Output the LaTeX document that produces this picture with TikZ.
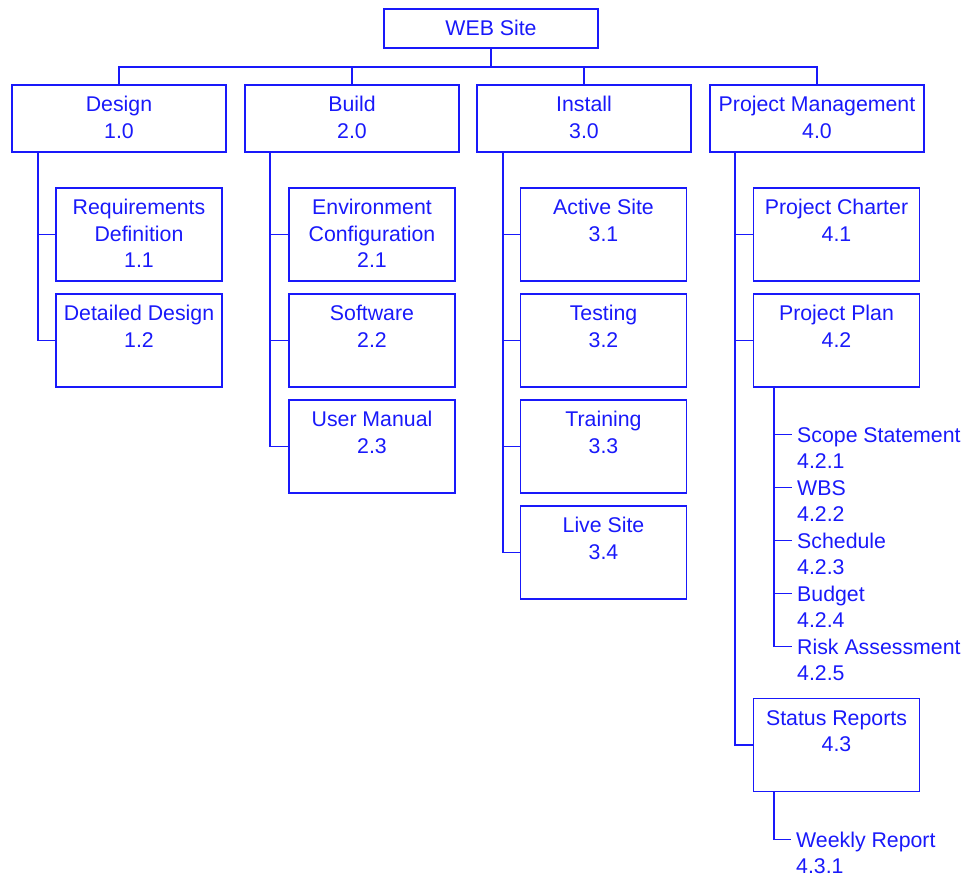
\documentclass[tikz,border=0pt]{standalone}
\usepackage{fontspec}
\setmainfont{Liberation Sans}
\definecolor{wb}{RGB}{25,25,250}
\newcommand\stru{\rule{0pt}{20pt}}
\begin{document}
\begin{tikzpicture}[x=1pt,y=-1pt,
  box/.style={draw=wb, line width=1.2pt, rectangle, inner sep=0pt},
  top/.style={box, minimum width=214pt, minimum height=39pt},
  lvl/.style={box, minimum width=214pt, minimum height=67pt},
  kid/.style={box, minimum width=166pt, minimum height=93pt},
  txt/.style={text=wb, font=\fontsize{21.3}{26.5}\selectfont, align=center, inner sep=0pt, anchor=north},
  item/.style={text=wb, font=\fontsize{21.3}{26.5}\selectfont, align=left, inner xsep=5pt, inner ysep=0pt, anchor=north west},
  wire/.style={draw=wb, line width=1.2pt}]
\useasboundingbox (0,0) rectangle (968,878);

% root
\node[top] (root) at (491,28.5) {};
\node[txt] (roott) at ([yshift=-7pt]root.north) {\stru WEB Site};

% level 1
\node[lvl] (d1) at (119,118.5) {};
\node[lvl] (d2) at (352,118.5) {};
\node[lvl] (d3) at (584,118.5) {};
\node[lvl] (d4) at (817,118.5) {};
\node[txt] (d1t) at ([yshift=-7pt]d1.north) {\stru Design\\1.0};
\node[txt] (d2t) at ([yshift=-7pt]d2.north) {\stru Build\\2.0};
\node[txt] (d3t) at ([yshift=-7pt]d3.north) {\stru Install\\3.0};
\node[txt] (d4t) at ([yshift=-7pt]d4.north) {\stru Project Management\\4.0};

% bus
\coordinate (bus) at (491,67);
\draw[wire] (root.south) -- (bus);
\draw[wire] (d1.north) -- (d1.north |- bus) -- (d4.north |- bus) -- (d4.north);
\draw[wire] (d2.north) -- (d2.north |- bus);
\draw[wire] (d3.north) -- (d3.north |- bus);

% design children
\node[kid] (c11) at (139,234.5) {};
\node[kid] (c12) at (139,340.5) {};
\node[txt] (c11t) at ([yshift=-7pt]c11.north) {\stru Requirements\\Definition\\1.1};
\node[txt] (c12t) at ([yshift=-7pt]c12.north) {\stru Detailed Design\\1.2};

% build children
\node[kid] (c21) at (372,234.5) {};
\node[kid] (c22) at (372,340.5) {};
\node[kid] (c23) at (372,446.5) {};
\node[txt] (c21t) at ([yshift=-7pt]c21.north) {\stru Environment\\Configuration\\2.1};
\node[txt] (c22t) at ([yshift=-7pt]c22.north) {\stru Software\\2.2};
\node[txt] (c23t) at ([yshift=-7pt]c23.north) {\stru User Manual\\2.3};

% install children
\node[kid] (c31) at (603.5,234.5) {};
\node[kid] (c32) at (603.5,340.5) {};
\node[kid] (c33) at (603.5,446.5) {};
\node[kid] (c34) at (603.5,552.5) {};
\node[txt] (c31t) at ([yshift=-7pt]c31.north) {\stru Active Site\\3.1};
\node[txt] (c32t) at ([yshift=-7pt]c32.north) {\stru Testing\\3.2};
\node[txt] (c33t) at ([yshift=-7pt]c33.north) {\stru Training\\3.3};
\node[txt] (c34t) at ([yshift=-7pt]c34.north) {\stru Live Site\\3.4};

% PM children
\node[kid] (c41) at (836.5,234.5) {};
\node[kid] (c42) at (836.5,340.5) {};
\node[kid] (c43) at (836.5,745) {};
\node[txt] (c41t) at ([yshift=-7pt]c41.north) {\stru Project Charter\\4.1};
\node[txt] (c42t) at ([yshift=-7pt]c42.north) {\stru Project Plan\\4.2};
\node[txt] (c43t) at ([yshift=-7pt]c43.north) {\stru Status Reports\\4.3};

% trunks
\coordinate (t1) at (38,152);
\coordinate (t2) at (270,152);
\coordinate (t3) at (503,152);
\coordinate (t4) at (735,152);
\draw[wire] (t1) |- (c12.west);
\draw[wire] (t1 |- c11.west) -- (c11.west);
\draw[wire] (t2) |- (c23.west);
\draw[wire] (t2 |- c21.west) -- (c21.west);
\draw[wire] (t2 |- c22.west) -- (c22.west);
\draw[wire] (t3) |- (c34.west);
\draw[wire] (t3 |- c31.west) -- (c31.west);
\draw[wire] (t3 |- c32.west) -- (c32.west);
\draw[wire] (t3 |- c33.west) -- (c33.west);
\draw[wire] (t4) |- (c43.west);
\draw[wire] (t4 |- c41.west) -- (c41.west);
\draw[wire] (t4 |- c42.west) -- (c42.west);

% project plan items
\node[item] (s1) at (792,422) {\stru Scope Statement\\4.2.1};
\node[item] (s2) at (792,475) {\stru WBS\\4.2.2};
\node[item] (s3) at (792,528) {\stru Schedule\\4.2.3};
\node[item] (s4) at (792,581) {\stru Budget\\4.2.4};
\node[item] (s5) at (792,634) {\stru Risk Assessment\\4.2.5};
\foreach \i in {1,...,5}{\coordinate (s\i e) at ([yshift=-12.4pt]s\i.north west);}
\coordinate (pt) at (774,387);
\draw[wire] (pt) |- (s5e);
\foreach \i in {1,...,4}{\draw[wire] (pt |- s\i e) -- (s\i e);}

% status report item
\node[item] (w1) at (791,827) {\stru Weekly Report\\4.3.1};
\coordinate (w1e) at ([yshift=-12.4pt]w1.north west);
\coordinate (wt) at (774,791.5);
\draw[wire] (wt) |- (w1e);
\end{tikzpicture}
\end{document}
